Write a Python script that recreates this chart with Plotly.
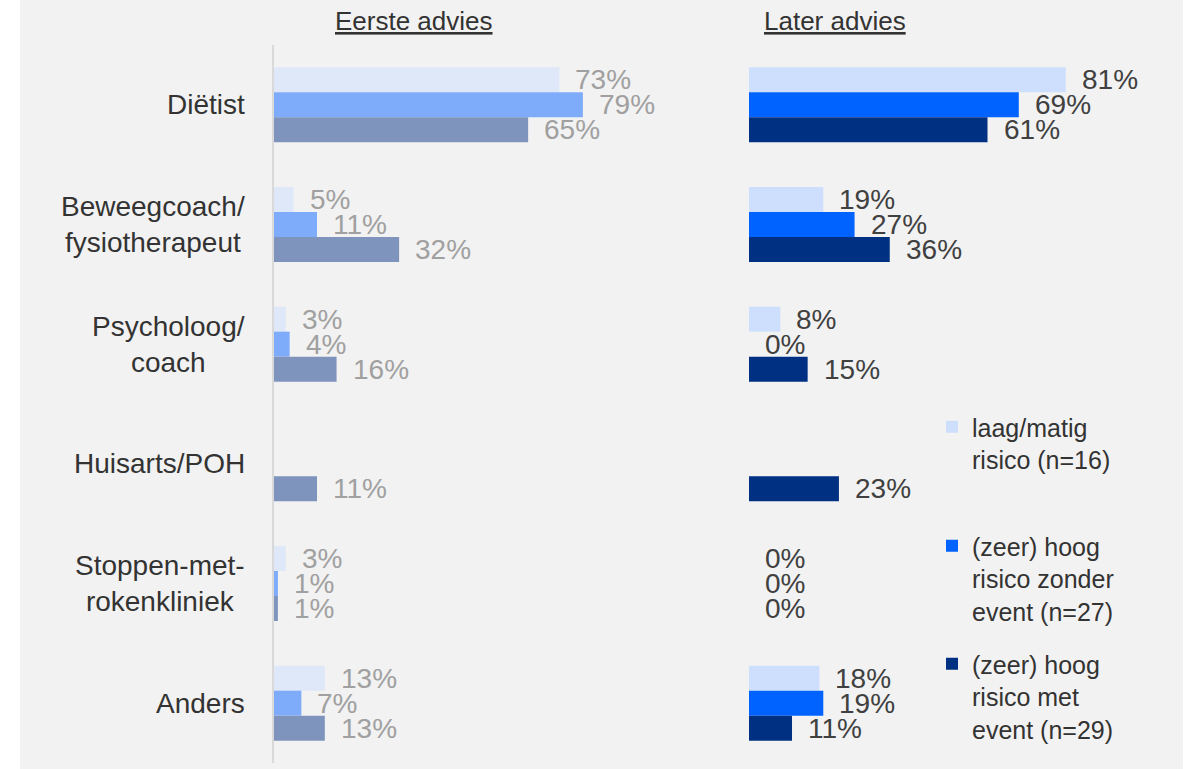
import plotly.graph_objects as go

# Categories (top to bottom) and category labels
categories = ["Diëtist", "Beweegcoach/fysiotherapeut", "Psycholoog/coach",
              "Huisarts/POH", "Stoppen-met-rokenkliniek", "Anders"]
category_labels = ["Diëtist", "Beweegcoach/<br>fysiotherapeut", "Psycholoog/<br>coach",
                   "Huisarts/POH", "Stoppen-met-<br>rokenkliniek", "Anders"]

series_names = ["laag/matig<br>risico (n=16)",
                "(zeer) hoog<br>risico zonder<br>event (n=27)",
                "(zeer) hoog<br>risico met<br>event (n=29)"]

# Eerste advies (%), per risk group
first_low = [73, 5, 3, None, 3, 13]
first_high_no_event = [79, 11, 4, None, 1, 7]
first_high_event = [65, 32, 16, 11, 1, 13]

# Later advies (%), per risk group
later_low = [81, 19, 8, None, 0, 18]
later_high_no_event = [69, 27, 0, None, 0, 19]
later_high_event = [61, 36, 15, 23, 0, 11]

first_series = [first_low, first_high_no_event, first_high_event]
later_series = [later_low, later_high_no_event, later_high_event]

first_colors = ["#dfe8f8", "#7eabfa", "#7f94bd"]
later_colors = ["#cddffc", "#0062ff", "#003082"]

W, H = 1188, 769
FONT = "Liberation Sans, Arial, sans-serif"
BAR_PX = 25  # thickness of a single bar in pixels


def px_x(p):
    return p / W


def px_y(p):
    return 1 - p / H


fig = go.Figure()

# Left panel: Eerste advies
for vals, col in zip(first_series, first_colors):
    fig.add_trace(go.Bar(
        y=categories, x=vals, orientation="h", marker=dict(color=col, line=dict(width=0)),
        xaxis="x", yaxis="y", showlegend=False, hoverinfo="skip"))

# Right panel: Later advies (carries the legend entries)
legend_ids = ["legend", "legend2", "legend3"]
for vals, col, name, lg in zip(later_series, later_colors, series_names, legend_ids):
    fig.add_trace(go.Bar(
        y=categories, x=vals, orientation="h", name=name,
        marker=dict(color=col, line=dict(width=0)),
        xaxis="x2", yaxis="y2", legend=lg, hoverinfo="skip"))

annotations = []

# Value labels next to each bar
for panel, series, color, xref, yref in [
    ("first", first_series, "#a0a0a0", "x", "y"),
    ("later", later_series, "#404040", "x2", "y2"),
]:
    for i, vals in enumerate(series):
        for cat, v in zip(categories, vals):
            if v is None:
                continue
            annotations.append(dict(
                x=v, y=cat, xref=xref, yref=yref, text=f"{v}%",
                showarrow=False, xanchor="left", yanchor="middle",
                xshift=14, yshift=(1 - i) * BAR_PX,
                font=dict(family=FONT, size=28, color=color)))

# Category labels
for cat, lab in zip(categories, category_labels):
    annotations.append(dict(
        x=px_x(247), y=cat, xref="paper", yref="y", text=lab,
        showarrow=False, xanchor="right", yanchor="middle", align="center",
        font=dict(family=FONT, size=28, color="#333333")))

# Panel titles
for title, cx in [("Eerste advies", 414), ("Later advies", 835)]:
    annotations.append(dict(
        x=px_x(cx), y=px_y(21), xref="paper", yref="paper", text=f"<u>{title}</u>",
        showarrow=False, xanchor="center", yanchor="middle",
        font=dict(family=FONT, size=26, color="#333333")))

y_dom = [px_y(763), px_y(45)]
axis_common = dict(showgrid=False, zeroline=False, showticklabels=False, ticks="")

legend_style = dict(
    xanchor="left", yanchor="top", bgcolor="rgba(0,0,0,0)", borderwidth=0,
    valign="top", font=dict(family=FONT, size=25, color="#333333"))

fig.update_layout(
    width=W, height=H,
    margin=dict(l=0, r=0, t=0, b=0),
    paper_bgcolor="white", plot_bgcolor="rgba(0,0,0,0)",
    barmode="group", bargap=0.373, bargroupgap=0,
    xaxis=dict(domain=[px_x(274), px_x(665)], range=[0, 100], **axis_common),
    xaxis2=dict(domain=[px_x(749), px_x(1140)], range=[0, 100], **axis_common),
    yaxis=dict(domain=y_dom, autorange="reversed", anchor="x", showline=True,
               linecolor="#d9d9d9", linewidth=2, **axis_common),
    yaxis2=dict(domain=y_dom, autorange="reversed", anchor="x2", showline=False,
                **axis_common),
    legend=dict(x=px_x(932), y=px_y(404), **legend_style),
    legend2=dict(x=px_x(932), y=px_y(523), **legend_style),
    legend3=dict(x=px_x(932), y=px_y(641), **legend_style),
    annotations=annotations,
    shapes=[dict(type="rect", xref="paper", yref="paper", x0=px_x(20), x1=px_x(1183),
                 y0=0, y1=1, fillcolor="#f2f2f2", line=dict(width=0), layer="below")],
)

fig.write_html("out.html")
